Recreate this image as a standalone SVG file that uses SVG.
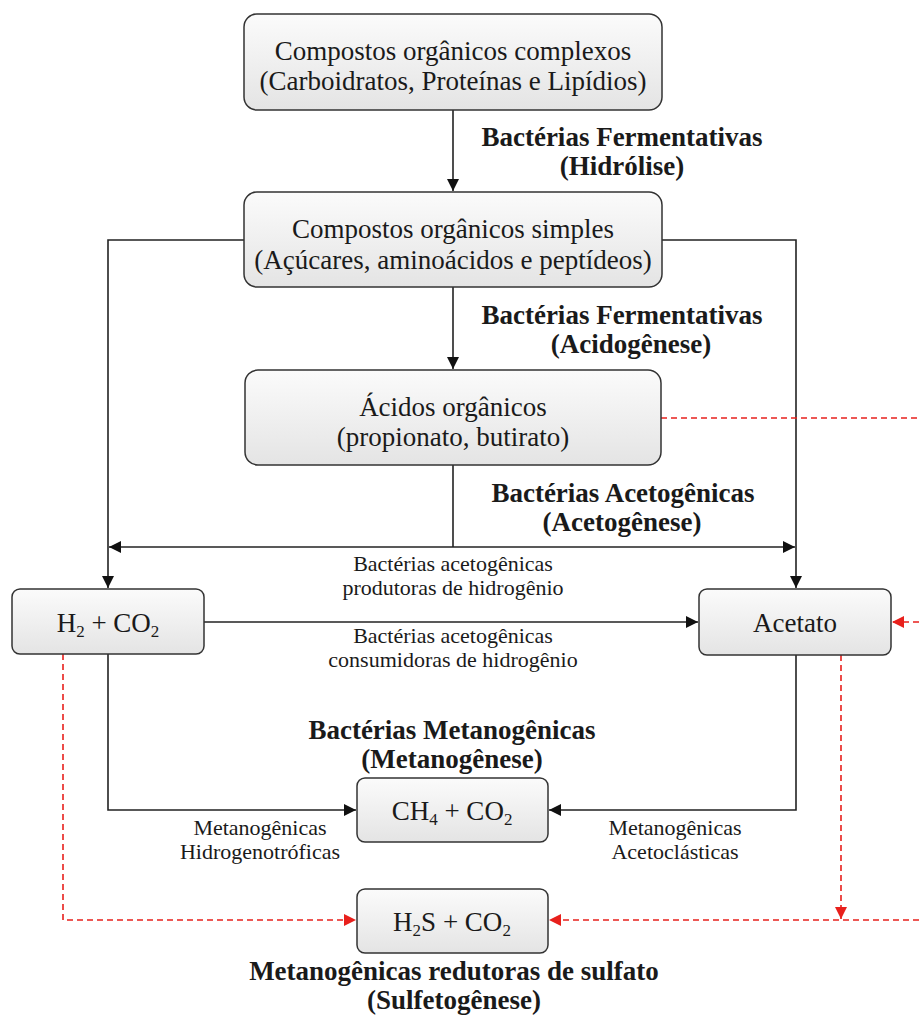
<svg xmlns="http://www.w3.org/2000/svg" width="919" height="1017" viewBox="0 0 919 1017">
<defs>
<linearGradient id="g" x1="0" y1="0" x2="0" y2="1">
<stop offset="0" stop-color="#fbfbfb"/>
<stop offset="1" stop-color="#e4e4e4"/>
</linearGradient>
<marker id="ab" viewBox="0 0 10 10" refX="10" refY="5" markerWidth="13" markerHeight="12" markerUnits="userSpaceOnUse" orient="auto">
<path d="M0,0 L10,5 L0,10 z" fill="#111"/>
</marker>
<marker id="ar" viewBox="0 0 10 10" refX="10" refY="5" markerWidth="13" markerHeight="12" markerUnits="userSpaceOnUse" orient="auto">
<path d="M0,0 L10,5 L0,10 z" fill="#e8201c"/>
</marker>
</defs>
<style>
.box{fill:url(#g);stroke:#333;stroke-width:1.5}
.bt{font-family:"Liberation Serif",serif;font-size:27px;fill:#1a1a1a;text-anchor:middle}
.lb{font-family:"Liberation Serif",serif;font-size:27px;font-weight:bold;fill:#1a1a1a;text-anchor:middle}
.sm{font-family:"Liberation Serif",serif;font-size:22px;fill:#1a1a1a;text-anchor:middle}
.c{fill:none;stroke:#222;stroke-width:1.6}
.r{fill:none;stroke:#e8201c;stroke-width:1.6;stroke-dasharray:6,4}
</style>
<rect width="919" height="1017" fill="#fff"/>
<g id="connectors">
<path class="c" d="M453,110 V191" marker-end="url(#ab)"/>
<path class="c" d="M244,240 H108 V588" marker-end="url(#ab)"/>
<path class="c" d="M662,240 H796 V588" marker-end="url(#ab)"/>
<path class="c" d="M453,287 V369" marker-end="url(#ab)"/>
<path class="c" d="M453,465 V547"/>
<path class="c" d="M453,547 H109" marker-end="url(#ab)"/>
<path class="c" d="M453,547 H795" marker-end="url(#ab)"/>
<path class="c" d="M204,622 H698" marker-end="url(#ab)"/>
<path class="c" d="M108,654 V810 H356" marker-end="url(#ab)"/>
<path class="c" d="M796,655 V810 H549" marker-end="url(#ab)"/>
<path class="r" d="M661,418 H919"/>
<path class="r" d="M919,622 H892" marker-end="url(#ar)"/>
<path class="r" d="M63,654 V920 H356" marker-end="url(#ar)"/>
<path class="r" d="M919,920 H549" marker-end="url(#ar)"/>
<path class="r" d="M841,655 V919" marker-end="url(#ar)"/>
</g>
<g id="n1">
<rect class="box" x="244" y="14" width="418" height="96" rx="13"/>
<text class="bt" x="453" y="60">Compostos orgânicos complexos</text>
<text class="bt" x="453" y="90">(Carboidratos, Proteínas e Lipídios)</text>
</g>
<g id="n2">
<rect class="box" x="244" y="192" width="418" height="95" rx="13"/>
<text class="bt" x="453" y="238">Compostos orgânicos simples</text>
<text class="bt" x="453" y="269">(Açúcares, aminoácidos e peptídeos)</text>
</g>
<g id="n3">
<rect class="box" x="245" y="370" width="416" height="95" rx="13"/>
<text class="bt" x="453" y="416">Ácidos orgânicos</text>
<text class="bt" x="453" y="446">(propionato, butirato)</text>
</g>
<g id="n4">
<rect class="box" x="12" y="589" width="192" height="65" rx="8"/>
<text class="bt" x="108" y="632">H<tspan font-size="17" dy="5">2</tspan><tspan dy="-5"> + CO</tspan><tspan font-size="17" dy="5">2</tspan></text>
</g>
<g id="n5">
<rect class="box" x="699" y="589" width="192" height="66" rx="8"/>
<text class="bt" x="795" y="632">Acetato</text>
</g>
<g id="n6">
<rect class="box" x="357" y="778" width="191" height="64" rx="8"/>
<text class="bt" x="452" y="820">CH<tspan font-size="17" dy="5">4</tspan><tspan dy="-5"> + CO</tspan><tspan font-size="17" dy="5">2</tspan></text>
</g>
<g id="n7">
<rect class="box" x="357" y="889" width="191" height="64" rx="8"/>
<text class="bt" x="452" y="931">H<tspan font-size="17" dy="5">2</tspan><tspan dy="-5">S + CO</tspan><tspan font-size="17" dy="5">2</tspan></text>
</g>
<g id="labels">
<text class="lb" x="622" y="146">Bactérias Fermentativas</text>
<text class="lb" x="622" y="175">(Hidrólise)</text>
<text class="lb" x="622" y="324">Bactérias Fermentativas</text>
<text class="lb" x="631" y="353">(Acidogênese)</text>
<text class="lb" x="623" y="502">Bactérias Acetogênicas</text>
<text class="lb" x="622" y="531">(Acetogênese)</text>
<text class="sm" x="453" y="571">Bactérias acetogênicas</text>
<text class="sm" x="453" y="595">produtoras de hidrogênio</text>
<text class="sm" x="453" y="643">Bactérias acetogênicas</text>
<text class="sm" x="453" y="667">consumidoras de hidrogênio</text>
<text class="lb" x="452" y="739">Bactérias Metanogênicas</text>
<text class="lb" x="452" y="768">(Metanogênese)</text>
<text class="sm" x="260" y="835">Metanogênicas</text>
<text class="sm" x="260" y="859">Hidrogenotróficas</text>
<text class="sm" x="675" y="835">Metanogênicas</text>
<text class="sm" x="675" y="859">Acetoclásticas</text>
<text class="lb" x="454" y="980">Metanogênicas redutoras de sulfato</text>
<text class="lb" x="454" y="1009">(Sulfetogênese)</text>
</g>
</svg>
